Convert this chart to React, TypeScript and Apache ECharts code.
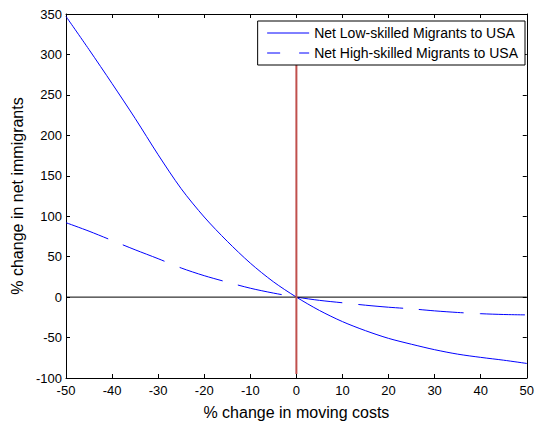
import React, { useEffect, useRef } from "react";
import * as echarts from "echarts";

const xValues = [-50, -45, -40, -35, -30, -25, -20, -15, -10, -5, 0, 5, 10, 15, 20, 25, 30, 35, 40, 45, 50];
const lowSkilled = [347, 306, 264, 221, 176, 134, 99, 69, 42, 19, 0, -16.5, -30.3, -41.5, -51, -58.3, -65, -70.5, -74.5, -78, -82];
const highSkilled = [92, 81.5, 70, 58.5, 47.5, 36, 26.5, 18.5, 11, 5, 0, -4, -7, -10, -12.5, -14.5, -17, -19, -20.5, -21.5, -22];
const zeroLineX = [-50, 50];
const zeroLineY = [0, 0];
const redLineX = [0, 0];
const redLineY = [-95, 300];
const xTicks = { min: -50, max: 50, interval: 10 };
const yTicks = { min: -100, max: 350, interval: 50 };
const seriesNames = ["Net Low-skilled Migrants to USA", "Net High-skilled Migrants to USA"];

const FONT = "'Liberation Sans', Arial, sans-serif";

export default function App() {
  const ref = useRef<HTMLDivElement>(null);
  useEffect(() => {
    if (!ref.current) return;
    const chart = echarts.init(ref.current, undefined, { renderer: "svg" });
    const pair = (xs: number[], ys: number[]) => xs.map((x, i) => [x, ys[i]]);
    const baseAxisLine = { show: true, onZero: false, lineStyle: { color: "#000", width: 1 } };
    const tick = { show: true, inside: true, length: 4, lineStyle: { color: "#000" } };
    chart.setOption({
      animation: false,
      grid: { left: 66, right: 8, top: 14, bottom: 50 },
      legend: {
        orient: "vertical",
        right: 12,
        top: 21,
        backgroundColor: "#fff",
        borderColor: "#000",
        borderWidth: 1,
        borderRadius: 0,
        padding: [5, 7, 5, 9],
        itemWidth: 42,
        itemHeight: 14,
        itemGap: 6,
        itemStyle: { opacity: 0 },
        lineStyle: { width: 1 },
        textStyle: { fontFamily: FONT, fontSize: 14, color: "#000" },
        data: [
          { name: seriesNames[0], lineStyle: { width: 1, color: "#0000ff" } },
          { name: seriesNames[1], lineStyle: { width: 1, color: "#0000ff", type: [13, 19] } },
        ],
      },
      xAxis: [
        {
          type: "value",
          ...xTicks,
          position: "bottom",
          axisLine: baseAxisLine,
          axisTick: tick,
          splitLine: { show: false },
          axisLabel: { fontFamily: FONT, fontSize: 13, color: "#000", margin: 6 },
          name: "% change in moving costs",
          nameLocation: "middle",
          nameGap: 26,
          nameTextStyle: { fontFamily: FONT, fontSize: 16, color: "#000" },
        },
        {
          type: "value",
          ...xTicks,
          position: "top",
          axisLine: baseAxisLine,
          axisTick: tick,
          splitLine: { show: false },
          axisLabel: { show: false },
        },
      ],
      yAxis: [
        {
          type: "value",
          ...yTicks,
          position: "left",
          axisLine: baseAxisLine,
          axisTick: tick,
          splitLine: { show: false },
          axisLabel: { fontFamily: FONT, fontSize: 13, color: "#000", margin: 4 },
          name: "% change in net immigrants",
          nameLocation: "middle",
          nameGap: 40,
          nameTextStyle: { fontFamily: FONT, fontSize: 16, color: "#000" },
        },
        {
          type: "value",
          ...yTicks,
          position: "right",
          axisLine: baseAxisLine,
          axisTick: tick,
          splitLine: { show: false },
          axisLabel: { show: false },
        },
      ],
      series: [
        {
          name: seriesNames[0],
          type: "line",
          data: pair(xValues, lowSkilled),
          showSymbol: false,
          symbol: "none",
          smooth: 0.3,
          lineStyle: { color: "#0000ff", width: 1 },
          itemStyle: { color: "#0000ff" },
          silent: true,
        },
        {
          name: seriesNames[1],
          type: "line",
          data: pair(xValues, highSkilled),
          showSymbol: false,
          symbol: "none",
          smooth: 0.3,
          lineStyle: { color: "#0000ff", width: 1, type: [45, 16] },
          itemStyle: { color: "#0000ff" },
          silent: true,
        },
        {
          name: "zero",
          type: "line",
          data: pair(zeroLineX, zeroLineY),
          symbol: "none",
          lineStyle: { color: "#000", width: 1 },
          silent: true,
        },
        {
          name: "origin",
          type: "line",
          data: pair(redLineX, redLineY),
          symbol: "none",
          lineStyle: { color: "#c0504d", width: 2 },
          silent: true,
        },
      ],
    });
    return () => chart.dispose();
  }, []);
  return (
    <div
      ref={ref}
      style={{ position: "fixed", left: 0, top: 0, width: 537, height: 428, background: "#fff" }}
    />
  );
}
